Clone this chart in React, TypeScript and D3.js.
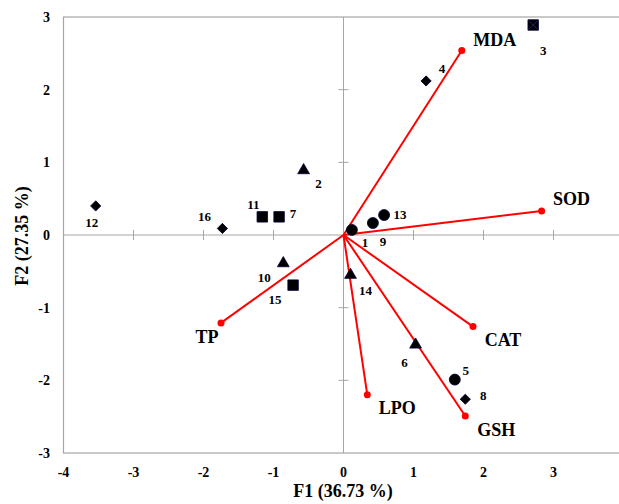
import React from 'react';
import * as d3 from 'd3';

// observations (F1, F2 scores)
const obsLabels = ['1', '2', '3', '4', '5', '6', '7', '8', '9', '10', '11', '12', '13', '14', '15', '16'];
const obsF1 = [0.12, -0.57, 2.71, 1.18, 1.59, 1.03, -0.92, 1.74, 0.42, -0.86, -1.16, -3.54, 0.58, 0.1, -0.72, -1.73];
const obsF2 = [0.07, 0.89, 2.89, 2.12, -1.99, -1.51, 0.25, -2.26, 0.165, -0.39, 0.25, 0.4, 0.275, -0.55, -0.69, 0.09];
const obsShape = ['circle', 'triangle', 'square', 'diamond', 'circle', 'triangle', 'square', 'diamond',
  'circle', 'triangle', 'square', 'diamond', 'circle', 'triangle', 'square', 'diamond'];

// variable loadings
const varNames = ['MDA', 'SOD', 'CAT', 'GSH', 'LPO', 'TP'];
const varF1 = [1.69, 2.83, 1.85, 1.74, 0.34, -1.75];
const varF2 = [2.54, 0.33, -1.26, -2.49, -2.2, -1.21];

const xTicks = [-4, -3, -2, -1, 0, 1, 2, 3];
const yTicks = [-3, -2, -1, 0, 1, 2, 3];

// label placement (pixel offsets from the mark)
const obsLabelOffset: [number, number][] = [
  [13, 13], [15, 13], [10, 25], [16, -12], [11, -9], [-11, 18], [14, -3], [18, -4],
  [10, 18], [-19, 14], [-9, -12], [-4, 17], [16, -1], [15, 15], [-18, 14], [-18, -12],
];
const varLabelOffset: [number, number][] = [
  [33, -11], [30, -12], [30, 13], [31, 14], [30, 13], [-14, 14],
];

const W = 619;
const H = 504;
const font = '"Liberation Serif", "Times New Roman", serif';
const gridColor = '#a6a6a6';

const x = d3.scaleLinear().domain([-4, 4]).range([63.5, 623.5]);
const y = d3.scaleLinear().domain([-3, 3]).range([453, 17]);

const symbolPath = (shape: string) => {
  if (shape === 'circle') return d3.symbol(d3.symbolCircle, 95)()!;
  if (shape === 'triangle') return d3.symbol(d3.symbolTriangle, 60)()!;
  if (shape === 'square') return d3.symbol(d3.symbolSquare, 110)()!;
  return d3.symbol(d3.symbolSquare, 52)()!;
};

export default function App() {
  const x0 = x(0);
  const y0 = y(0);
  return (
    <svg width={W} height={H} style={{ position: 'absolute', left: 0, top: 0, background: '#fff' }}
      fontFamily={font} fontWeight="bold">
      {/* plot frame */}
      <rect x={x(-4)} y={y(3)} width={x(4) - x(-4)} height={y(-3) - y(3)} fill="none" stroke={gridColor} strokeWidth={1.2} />
      {/* zero lines */}
      <line x1={x(-4)} x2={x(4)} y1={y0} y2={y0} stroke={gridColor} strokeWidth={1} />
      <line x1={x0} x2={x0} y1={y(3)} y2={y(-3)} stroke={gridColor} strokeWidth={1} />
      {xTicks.filter(t => t !== -4 && t !== 0).map(t => (
        <line key={'xt' + t} x1={x(t)} x2={x(t)} y1={y0 - 5} y2={y0 + 5} stroke={gridColor} />
      ))}
      {yTicks.filter(t => t !== 0 && Math.abs(t) !== 3).map(t => (
        <line key={'yt' + t} x1={x0 - 5} x2={x0 + 5} y1={y(t)} y2={y(t)} stroke={gridColor} />
      ))}
      {/* tick labels */}
      {xTicks.map(t => (
        <text key={'xl' + t} x={x(t)} y={477} textAnchor="middle" fontSize={14}>{t}</text>
      ))}
      {yTicks.map(t => (
        <text key={'yl' + t} x={50} y={y(t)} dy="0.35em" textAnchor="end" fontSize={14}>{t}</text>
      ))}
      {/* axis titles */}
      <text x={343} y={497} textAnchor="middle" fontSize={18}>F1 (36.73 %)</text>
      <text transform="translate(28,236) rotate(-90)" textAnchor="middle" fontSize={18}>F2 (27.35 %)</text>

      {/* variable vectors */}
      {varNames.map((v, i) => (
        <g key={v}>
          <line x1={x0} y1={y0} x2={x(varF1[i])} y2={y(varF2[i])} stroke="#ff0000" strokeWidth={2} />
          <circle cx={x(varF1[i])} cy={y(varF2[i])} r={3.5} fill="#ff0000" />
          <text x={x(varF1[i]) + varLabelOffset[i][0]} y={y(varF2[i]) + varLabelOffset[i][1]} dy="0.35em"
            textAnchor="middle" fontSize={18} fill="#000">{v}</text>
        </g>
      ))}

      {/* observations */}
      {obsLabels.map((l, i) => {
        const px = x(obsF1[i]);
        const py = y(obsF2[i]);
        const rot = obsShape[i] === 'diamond' ? ' rotate(45)' : '';
        return (
          <g key={'o' + l}>
            <path d={symbolPath(obsShape[i])} transform={`translate(${px},${py})${rot}`}
              fill="#000" stroke="#00003c" strokeWidth={0.8} />
            {l === '3' && (
              <path d="M-4.5,-4.5L4.5,4.5M-4.5,4.5L4.5,-4.5" transform={`translate(${px},${py})`}
                stroke="#23236e" strokeWidth={1} />
            )}
            <text x={px + obsLabelOffset[i][0]} y={py + obsLabelOffset[i][1]} dy="0.35em"
              textAnchor="middle" fontSize={13}>{l}</text>
          </g>
        );
      })}
    </svg>
  );
}
